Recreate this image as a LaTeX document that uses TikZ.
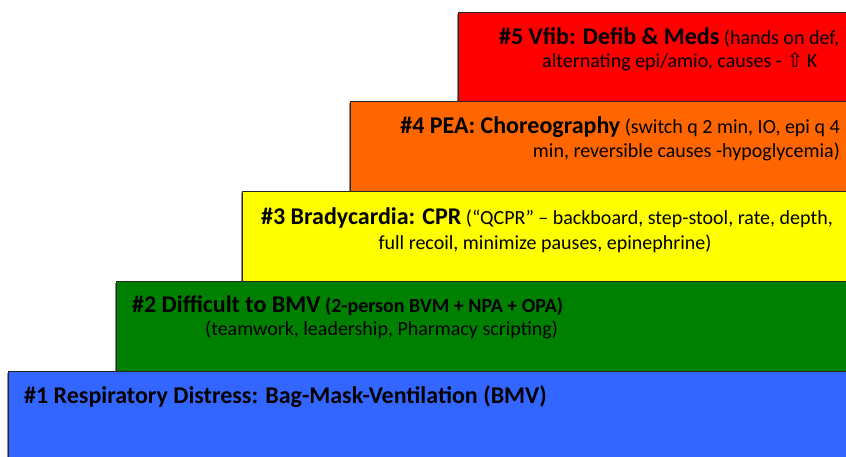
\documentclass[tikz,border=0pt]{standalone}
\usepackage{fontspec}
\setmainfont{Carlito}
\newfontfamily\symfont{DejaVu Sans}
\usetikzlibrary{shadows}
\definecolor{cRed}{HTML}{FF0000}
\definecolor{cOrange}{HTML}{FF6600}
\definecolor{cYellow}{HTML}{FFFF00}
\definecolor{cGreen}{HTML}{008000}
\definecolor{cBlue}{HTML}{3366FF}
\newcommand{\ttlfont}{\fontsize{24}{28}\selectfont\bfseries}
\begin{document}
\begin{tikzpicture}[x=1pt,y=-1pt,
  stepbox/.style={draw=black!85, line width=0.8pt, anchor=north west, inner sep=0pt,
    minimum width=900pt, minimum height=#1,
    drop shadow={shadow xshift=-1.5pt, shadow yshift=-1.5pt, opacity=0.45, fill=black}},
  stepbox/.default=90pt,
  txt/.style={inner sep=0pt, anchor=west, font=\fontsize{20}{24}\selectfont},
  txtr/.style={inner sep=0pt, anchor=east, font=\fontsize{20}{24}\selectfont}
]
\useasboundingbox (0,0) rectangle (846,457);
\clip (0,0) rectangle (846,457);
\node[stepbox=89pt, fill=cRed] (s5) at (458,12) {};
\node[stepbox=90pt, fill=cOrange] (s4) at (350,101) {};
\node[stepbox=90pt, fill=cYellow] (s3) at (242,191) {};
\node[stepbox=90pt, fill=cGreen] (s2) at (116,281) {};
\node[stepbox=100pt, fill=cBlue] (s1) at (8,371) {};
% #5
\node[txt] (t5a) at (499,37) {{\ttlfont \#5 Vfib: Defib \& Meds} (hands on def,};
\node[txt] (t5b) at (542,62) {alternating epi/amio, causes - {\symfont\fontsize{20}{24}\selectfont ⇧}\,K};
% #4
\node[txtr] (t4a) at (840,127) {{\ttlfont \#4 PEA: Choreography} (switch q 2 min, IO, epi q 4};
\node[txtr] (t4b) at (840,152) {min, reversible causes -hypoglycemia)};
% #3
\node[txt, anchor=center] (t3a) at (547,218) {{\ttlfont \#3 Bradycardia: CPR} (“QCPR” – backboard, step-stool, rate, depth,};
\node[txt, anchor=center] (t3b) at (545,244) {full recoil, minimize pauses, epinephrine)};
% #2
\node[txt] (t2a) at (132,306) {{\ttlfont \#2 Difficult to BMV} {\bfseries (2-person BVM + NPA + OPA)}};
\node[txt] (t2b) at (205,330) {(teamwork, leadership, Pharmacy scripting)};
% #1
\node[txt, font=\ttlfont] (t1a) at (24,397) {\#1 Respiratory Distress: Bag-Mask-Ventilation (BMV)};
\end{tikzpicture}
\end{document}
